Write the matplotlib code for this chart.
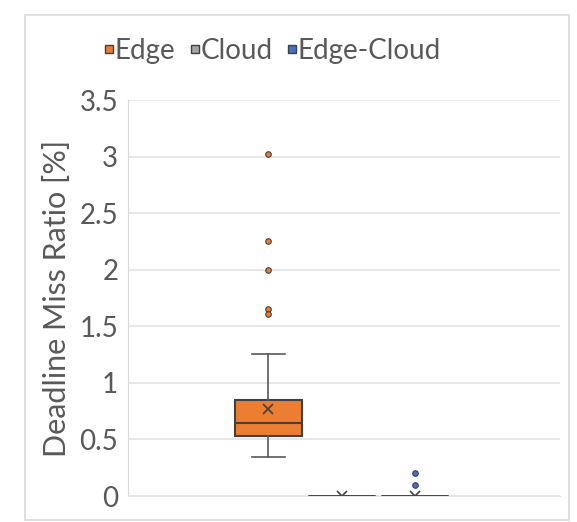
import matplotlib.pyplot as plt
from matplotlib.patches import Rectangle
from matplotlib.lines import Line2D

# datos
series = ["Edge", "Cloud", "Edge-Cloud"]
colores = ["#ED7D31", "#A5A5A5", "#4472C4"]
q1 = [0.53, 0.0, 0.0]
mediana = [0.645, 0.0, 0.0]
q3 = [0.85, 0.0, 0.0]
bigote_inf = [0.345, 0.0, 0.0]
bigote_sup = [1.255, 0.0, 0.0]
media = [0.77, 0.0, 0.003]
atipicos = [[3.02, 2.25, 2.0, 1.65, 1.605], [], [0.2, 0.1]]
yticks = [0, 0.5, 1, 1.5, 2, 2.5, 3, 3.5]
ytick_labels = ["0", "0.5", "1", "1.5", "2", "2.5", "3", "3.5"]

plt.rcParams["font.family"] = ["Lato", "DejaVu Sans"]
texto = "#595959"

fig = plt.figure(figsize=(5.77, 5.22), dpi=100)
ax = fig.add_axes([0.2218, 0.0498, 0.7487, 0.7586])

pos = [1, 2, 3]
ancho = 0.915
stats = []
for i in range(3):
    stats.append({
        "q1": q1[i], "med": mediana[i], "q3": q3[i],
        "whislo": bigote_inf[i], "whishi": bigote_sup[i],
        "mean": media[i], "fliers": atipicos[i], "label": series[i],
    })

bp = ax.bxp(stats, positions=pos, widths=ancho, patch_artist=True,
            showmeans=True, showcaps=True,
            boxprops=dict(edgecolor="#404040", linewidth=1.5),
            medianprops=dict(color="#404040", linewidth=1.5),
            whiskerprops=dict(color="#595959", linewidth=1.2),
            capprops=dict(color="#595959", linewidth=1.2),
            meanprops=dict(marker="x", markeredgecolor="#404040",
                           markersize=7, markeredgewidth=1.2))
for i, caja in enumerate(bp["boxes"]):
    caja.set_facecolor(colores[i])
for i, fl in enumerate(bp["fliers"]):
    fl.set(marker="o", markerfacecolor=colores[i], markeredgecolor="#404040",
           markersize=4, markeredgewidth=0.8)
for i in (1, 2):
    bp["caps"][2 * i].set_visible(False)
    bp["caps"][2 * i + 1].set_visible(False)
    bp["boxes"][i].set_linewidth(2)
    bp["medians"][i].set_linewidth(2)

ax.set_xlim(-0.918, 4.98)
ax.set_ylim(0, 3.5)
ax.set_yticks(yticks)
ax.set_yticklabels(ytick_labels)
ax.set_xticks([])
ax.tick_params(axis="y", length=0, pad=7, labelsize=20, labelcolor=texto)
ax.yaxis.grid(True, color="#E3E3E3", linewidth=1.2)
ax.set_axisbelow(True)
for lado in ["top", "right"]:
    ax.spines[lado].set_visible(False)
ax.spines["left"].set_color("#D9D9D9")
ax.spines["bottom"].set_color("#E3E3E3")
ax.set_ylabel("Deadline Miss Ratio [%]", fontsize=22, color=texto, labelpad=6)

handles = [Line2D([], [], marker="s", linestyle="", markerfacecolor=c,
                  markeredgecolor="#404040", markersize=6) for c in colores]
fig.legend(handles, series, loc="center", bbox_to_anchor=(0.465, 0.902), ncol=3,
           frameon=False, fontsize=20, handletextpad=-0.3, columnspacing=0.2,
           handlelength=1.0, labelcolor=texto)

fig.patches.append(Rectangle((25 / 577, 0.003), 544 / 577, 1 - 15 / 522 - 0.003,
                             transform=fig.transFigure, fill=False,
                             edgecolor="#D9D9D9", linewidth=1.2))

plt.savefig("out.png", dpi=100)
